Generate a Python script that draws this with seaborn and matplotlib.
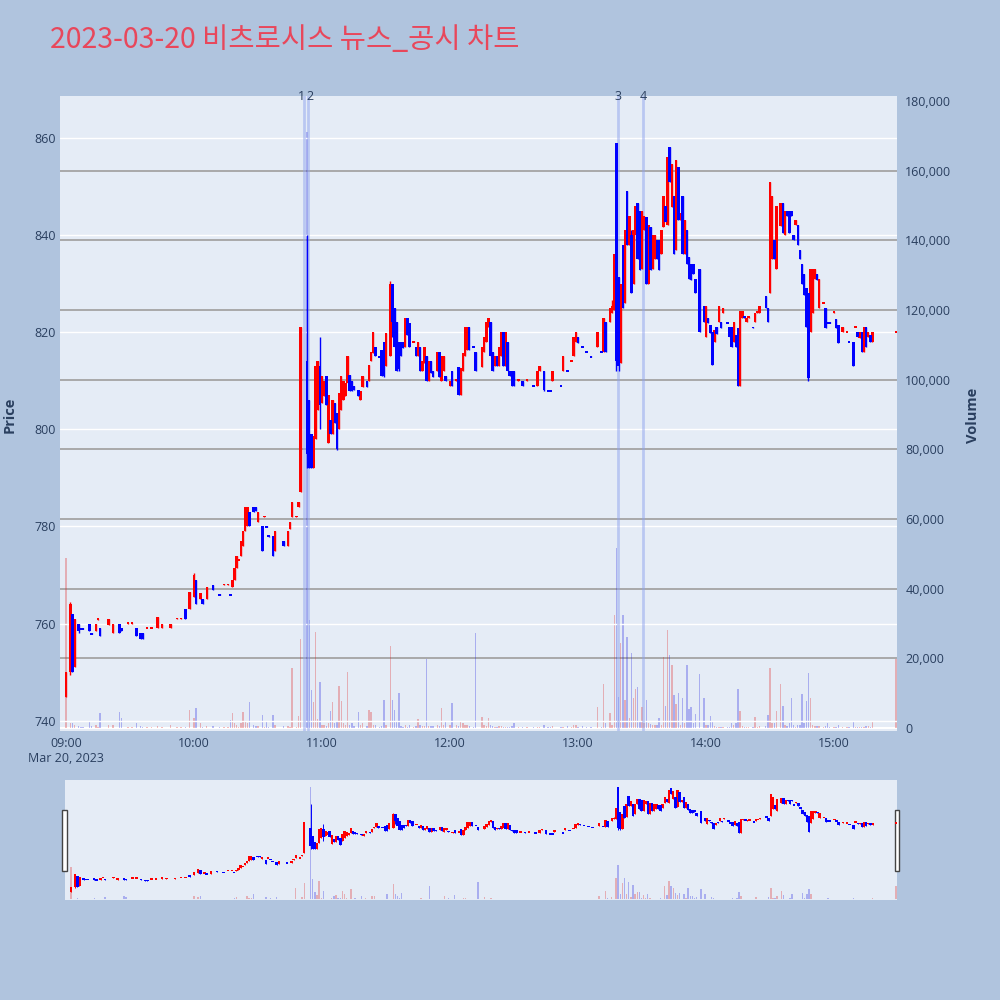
import matplotlib
matplotlib.use('Agg')
import matplotlib.pyplot as plt
import seaborn as sns
import numpy as np
import pandas as pd
from matplotlib.patches import Rectangle
from matplotlib.ticker import FuncFormatter

# ---------------- data (minutes after 09:00) ----------------
minute = [0, 2, 3, 4, 6, 7, 8, 11, 12, 14, 15, 16, 20, 22, 25, 26, 29, 31, 33, 35,
          36, 38, 40, 43, 45, 49, 52, 54, 56, 58, 60, 61, 63, 64, 66, 69, 72, 74, 76, 77,
          78, 79, 80, 81, 82, 83, 84, 85, 86, 88, 89, 90, 92, 93, 94, 95, 97, 98, 102, 104,
          105, 106, 108, 109, 110, 113, 114, 115, 116, 117, 118, 119, 120, 121, 122, 123, 124, 125, 126, 127,
          128, 129, 130, 131, 132, 133, 134, 135, 137, 138, 139, 141, 142, 143, 144, 145, 147, 148, 149, 150,
          152, 153, 154, 155, 156, 157, 158, 159, 160, 161, 163, 164, 165, 166, 167, 168, 169, 170, 171, 172,
          174, 175, 176, 177, 178, 180, 181, 183, 184, 185, 186, 187, 188, 189, 191, 192, 195, 196, 197, 198,
          199, 200, 201, 202, 203, 204, 205, 206, 207, 208, 209, 210, 212, 214, 216, 219, 221, 222, 224, 226,
          227, 228, 232, 233, 235, 237, 238, 239, 240, 242, 244, 246, 249, 251, 252, 253, 255, 256, 257, 258,
          259, 260, 261, 262, 263, 264, 265, 266, 267, 268, 269, 270, 271, 272, 273, 274, 275, 276, 277, 278,
          279, 280, 281, 282, 283, 284, 285, 286, 287, 288, 289, 290, 291, 292, 293, 294, 295, 297, 299, 300,
          301, 302, 303, 304, 305, 306, 307, 308, 310, 311, 312, 313, 314, 315, 316, 317, 318, 319, 320, 322,
          323, 324, 325, 328, 329, 330, 331, 332, 333, 335, 336, 337, 338, 339, 340, 341, 342, 343, 344, 345,
          346, 347, 348, 349, 350, 351, 352, 353, 355, 356, 357, 358, 360, 361, 362, 364, 366, 367, 369, 370,
          371, 372, 373, 374, 375, 376, 377, 378, 389]

open_ = [745, 750, 762, 751, 760, 759, 759, 760, 758, 758.5, 760.8, 759, 759.8, 758, 760, 759, 760, 760, 759, 758,
         758, 759, 759, 759, 759, 759, 761, 761, 763, 763, 765.5, 769, 765, 765, 765, 768, 766, 768, 768, 766,
         767.6, 769, 771.4, 773, 774, 776, 779, 780, 783, 784, 784, 781, 780, 782, 780, 778, 778, 775, 777, 776,
         779.5, 782, 782, 784, 787, 814, 806, 799, 792, 798, 804, 813, 805.4, 806.8, 811, 797.2, 802, 799, 805.4, 803.4,
         800, 804, 806, 806.8, 809.5, 811.2, 809.9, 809, 808, 806, 808.8, 810, 809.9, 814, 815.7, 817, 815, 816.4, 818, 813,
         815, 830, 825, 822, 818, 818, 818, 817, 823, 821.8, 818, 817, 815, 817, 812, 813.6, 815, 810, 814, 812,
         812, 816, 810, 812, 811, 809, 812, 810, 812.9, 807, 812, 815, 816.3, 821, 817, 816, 812.9, 816, 818, 821,
         822, 816, 813, 815, 813, 815, 820, 813, 818, 812, 812, 812, 810, 810, 810, 809, 809, 812, 812, 808,
         808, 810, 809, 812, 812, 814, 815, 818, 819, 817, 816, 815, 817, 816, 816, 822, 822, 824, 824.6, 859,
         831.4, 813.6, 838, 826, 849, 838, 840, 830, 840, 846.5, 845, 833, 841, 843.7, 830, 841.7, 833, 835, 839, 839,
         836, 841.7, 846, 842, 858, 845.8, 848, 837, 854, 843, 848, 836, 841, 835.5, 834, 834, 831, 833, 825.3, 819,
         823, 821.5, 820, 818, 821, 822, 822, 824, 822, 821, 821, 818, 819.5, 820.8, 809, 823, 823.4, 822, 823, 821,
         822, 824, 824, 827.4, 825, 828, 835, 839, 833, 841.8, 846.6, 840, 845, 845, 845, 840, 842, 842, 837, 834,
         832, 829, 828, 820, 823.9, 831, 832, 825, 826, 825, 822, 822, 824, 822.8, 821.5, 820, 820, 818, 818, 821,
         820, 818.7, 820, 816, 821, 819, 819.4, 818, 820]

high = [750, 764.5, 762, 761, 760, 759, 759, 760, 758, 760, 761, 759, 761, 760, 760, 759, 760.1, 760.1, 759, 758,
        758, 759.1, 759.1, 761.3, 760, 760, 761.1, 761.1, 763, 766.5, 770.5, 769, 766.3, 765, 767.5, 768, 766, 768.1, 768.1, 766,
        769, 771.4, 774, 773.1, 777, 779, 784, 784, 783, 784, 784, 783, 780, 782.1, 780, 778, 778, 779, 777, 779,
        781, 785, 782.1, 785, 821, 840, 806, 799, 798.6, 813, 814, 819, 811, 810, 811, 807, 802, 806, 805.4, 803.4,
        807.5, 811, 810, 809.5, 815, 811.2, 809.9, 809, 808, 807.8, 811, 810, 813.3, 816, 820, 817, 815, 816.4, 818, 819.8,
        830.5, 830, 825, 822, 818, 818, 818, 823, 823, 821.8, 818.1, 817, 818, 817, 814, 817, 815, 814, 814, 812,
        816, 816, 815, 815, 811, 810, 812, 810.1, 812.9, 812.6, 815.6, 821, 821, 821, 817, 816, 817, 819, 822, 823,
        822, 816, 815, 815, 817, 820, 820, 820, 818, 812, 812, 812, 810.1, 810, 810.1, 809, 812, 813, 812, 808,
        808, 812, 809, 815, 812, 814.1, 819, 820, 819, 817, 816, 815, 820, 816, 823, 822, 825, 826.7, 836, 859,
        831.4, 830, 838, 841, 849, 844, 841, 841, 846, 846.5, 845, 845, 844, 843.7, 842, 841.7, 840, 840, 839, 839,
        841, 848, 846, 856, 858, 854.7, 848, 855.4, 854, 844.5, 848, 843, 841, 835.5, 834, 834, 831, 833, 825.3, 825.3,
        823, 821.5, 820, 820.4, 821, 825.3, 822, 825, 822, 821, 821, 822, 819.5, 820.8, 824.3, 824.3, 823.4, 823, 823.1, 821,
        824, 824.1, 825.3, 827.4, 825, 851, 848, 839, 846, 846.6, 846.6, 845, 845, 845, 845, 840, 843, 842, 837, 834,
        832, 829, 828, 833, 833, 833, 832, 831, 826.1, 825, 822, 822, 824.1, 822.8, 821.5, 821, 820.1, 818, 818, 821.1,
        820, 820, 820, 821, 821, 820, 819.4, 820, 820.1]

low = [745, 749.5, 750, 751, 758, 758.8, 758.8, 758.5, 757.8, 758.5, 760.8, 757.5, 759.8, 758, 758, 758.5, 760, 760, 757.5, 756.8,
       756.8, 759, 759, 759, 759, 759, 761, 761, 761, 763, 765.5, 764, 765, 764, 765, 767, 765.9, 768, 768, 765.9,
       767.6, 769, 771.4, 773, 774, 776, 779, 780, 780, 783, 783.2, 781, 775, 782, 779.9, 777.9, 774, 775, 776, 776,
       779.5, 782, 782, 784, 787, 792, 792, 792, 792, 798, 804, 800, 805.4, 806.8, 805, 797.2, 799, 799, 801.3, 795.8,
       800, 804, 806, 806.8, 809.5, 807.8, 807.8, 808, 806.8, 806, 808.8, 808.8, 809.9, 814, 815.7, 815, 814.8, 811, 810.8, 813,
       815, 819, 817, 812, 812, 815, 816.7, 817, 819.4, 817, 818, 815, 815, 812, 812, 813.6, 810, 810, 811.5, 810.8,
       812, 810.8, 810, 812, 810, 809, 809, 810, 807, 807, 812, 815, 816.3, 816.3, 816.9, 812, 812.9, 816, 818, 821,
       815, 812, 813, 813, 813, 815, 813, 813, 812, 811, 809, 809, 810, 809, 810, 808.9, 809, 812, 807.8, 807.9,
       807.9, 810, 808.9, 812, 811.9, 814, 815, 818, 817.8, 816.9, 815.9, 814.9, 817, 815.9, 816, 816, 822, 824, 824.6, 812,
       812, 813.6, 825, 826, 838, 838, 828, 830, 840, 835, 832.8, 833, 841, 830, 830, 832.8, 833, 835, 835, 832.8,
       836, 841.7, 842.7, 842, 851, 845.8, 836, 837, 843, 843, 836, 836, 834, 831, 830.7, 832, 828, 820, 822, 819,
       821.8, 819.8, 813.3, 818, 819.7, 822, 820.8, 824, 821.9, 819, 817, 818, 817, 809, 809, 823, 823, 822, 823, 820.9,
       822, 824, 824, 825, 822, 828, 835, 835, 833, 841.8, 840.4, 840, 844, 840.4, 844, 839, 842, 838, 835, 830,
       827.6, 821, 810, 820, 823.9, 831, 830.7, 825, 826, 820.8, 821.9, 821.9, 824, 820.8, 817.7, 820, 820, 817.9, 813, 821,
       819, 818.7, 816, 816, 817, 819, 818, 818, 820]

close = [750, 764, 750, 761, 758.5, 758.8, 758.8, 758.5, 757.8, 760, 761, 757.5, 761, 760, 758, 758.5, 760.1, 760.1, 757.5, 756.8,
         756.8, 759.1, 759.1, 761.3, 760, 760, 761.1, 761.1, 761, 766.5, 770, 764, 766.3, 764, 767.5, 767, 765.9, 768.1, 768.1, 765.9,
         769, 771.4, 774, 773.1, 777, 779, 784, 784, 780, 783, 783.2, 783, 775, 782.1, 779.9, 777.9, 774, 779, 776, 779,
         781, 785, 782.1, 785, 821, 795, 792, 792, 798.6, 813, 814, 805, 811, 810, 805, 807, 799, 806, 801.3, 796,
         807.5, 811, 810, 809.5, 815, 807.8, 807.8, 808, 806.8, 807.8, 811, 808.8, 813.3, 816, 820, 815, 814.8, 811, 811, 819.8,
         830, 822, 817, 812, 812.5, 815, 816.7, 823, 819.4, 817, 818.1, 815, 818, 812, 814, 817, 810, 814, 811.5, 810.8,
         816, 810.8, 815, 815, 810, 810, 809, 810.1, 807, 812.6, 815.6, 821, 821, 816.3, 816.9, 812, 817, 819, 822, 823,
         815, 812, 815, 813, 817, 820, 813, 820, 812, 811, 809, 809, 810.1, 809, 810.1, 808.9, 812, 813, 808, 807.9,
         807.9, 812, 808.9, 815, 811.9, 814.1, 819, 820, 817.8, 816.9, 815.9, 814.9, 820, 815.9, 823, 816, 825, 825.3, 836, 814,
         813, 830, 825, 841, 838, 844, 828, 841, 846, 835, 832.8, 845, 844, 830, 842, 832.8, 840, 840, 835, 832.8,
         841, 848, 842.7, 856, 851, 854.7, 836, 855.4, 843, 844.5, 836, 843, 834, 831, 830.7, 832, 828, 820, 822, 825.3,
         821.8, 819.8, 813.3, 820.4, 819.7, 825.3, 820.8, 825, 821.9, 819, 817, 822, 817, 809, 824.3, 824.3, 823, 823, 823.1, 820.9,
         824, 824.1, 825.3, 825, 822, 851, 848, 835, 846, 846.6, 840.4, 845, 844, 840.4, 844, 839, 843, 838, 835, 830,
         827.6, 821, 810.5, 833, 833, 833, 830.7, 831, 826.1, 820.8, 821.9, 821.9, 824.1, 820.8, 817.7, 821, 820.1, 817.9, 813, 821.1,
         819, 820, 816, 821, 817, 820, 818, 820, 820.1]

volume = [48800, 1300, 1500, 800, 600, 300, 200, 1900, 700, 800, 300, 4200, 1000, 900, 4700, 3000, 300, 300, 1300, 600,
          400, 200, 200, 500, 400, 1000, 200, 200, 300, 5200, 3000, 5700, 1300, 400, 600, 600, 300, 200, 200, 2300,
          4300, 1300, 1000, 300, 1300, 4500, 2000, 1500, 7500, 800, 500, 600, 3800, 300, 1900, 300, 3800, 800, 500, 600,
          400, 17100, 300, 3400, 25600, 171000, 31000, 10900, 7400, 27600, 2500, 13300, 1000, 800, 700, 1500, 4900, 7400, 1500, 2000,
          12200, 7700, 1500, 800, 16100, 1000, 1500, 500, 4700, 800, 1500, 600, 5100, 4600, 1000, 800, 300, 600, 8000, 1000,
          23500, 8000, 5100, 2000, 10000, 600, 400, 800, 400, 1000, 300, 600, 2500, 800, 500, 500, 19700, 700, 500, 500,
          800, 500, 5700, 800, 2000, 1000, 7300, 800, 600, 2000, 1500, 1000, 800, 600, 300, 27200, 3300, 1000, 500, 2800,
          800, 500, 400, 300, 600, 500, 400, 300, 400, 300, 600, 1300, 300, 400, 200, 300, 400, 300, 1000, 300,
          200, 500, 200, 400, 500, 200, 1000, 1000, 300, 500, 200, 200, 5900, 400, 12600, 1500, 4200, 1000, 32400, 51700,
          8900, 24300, 32400, 8100, 26000, 3000, 21500, 8500, 11100, 11700, 2000, 6000, 1500, 8000, 1500, 1200, 1000, 800, 1000, 2900,
          1000, 20500, 6300, 28000, 21000, 18100, 9500, 7000, 10100, 1000, 8500, 1500, 18100, 5400, 5900, 1500, 4100, 15500, 8700, 1000,
          800, 3400, 2000, 500, 300, 400, 300, 300, 300, 300, 1500, 1000, 1500, 11100, 5000, 500, 300, 300, 200, 300,
          3300, 300, 500, 500, 3700, 17100, 1500, 1500, 4900, 12600, 6300, 1000, 500, 1500, 8500, 1000, 300, 1000, 1000, 9900,
          1500, 7800, 15900, 8500, 1000, 500, 500, 500, 300, 500, 1500, 300, 200, 300, 800, 200, 200, 200, 1800, 200,
          300, 300, 400, 400, 600, 500, 400, 1800, 19700]

news_minute = [111.6, 113.4, 258.8, 270.5]
news_label = ['1', '2', '3', '4']

x_tick_minutes = [0, 60, 120, 180, 240, 300, 360]
x_tick_labels = ['09:00\nMar 20, 2023', '10:00', '11:00', '12:00', '13:00', '14:00', '15:00']
price_ticks = [740, 760, 780, 800, 820, 840, 860]
volume_ticks = [0, 20000, 40000, 60000, 80000, 100000, 120000, 140000, 160000, 180000]
title_text = '2023-03-20 비츠로시스 뉴스_공시 차트'

# ---------------- style ----------------
sns.set_theme(style='white')
plt.rcParams['font.family'] = ['Open Sans', 'DejaVu Sans']

BG = '#B0C4DE'
PLOT_BG = '#E5ECF6'
TXT = '#2a3f5f'
UP = '#FF0000'
DOWN = '#0000FF'

df = pd.DataFrame(dict(minute=minute, open=open_, high=high, low=low,
                       close=close, volume=volume))
df['dir'] = np.where(df['close'] >= df['open'], 'up', 'down')

fig = plt.figure(figsize=(10, 10), dpi=100, facecolor=BG)


def draw_panel(ax, ax2, min_body, body_w, wick_lw, vol_w):
    # volume (secondary axis, drawn behind)
    sns.barplot(data=df, x='minute', y='volume', hue='dir',
                palette={'up': UP, 'down': DOWN}, native_scale=True,
                dodge=False, width=vol_w, alpha=0.3, errorbar=None,
                legend=False, linewidth=0, ax=ax2)
    # candles
    for d, col in (('up', UP), ('down', DOWN)):
        s = df[df['dir'] == d]
        ax.vlines(s['minute'], s['low'], s['high'], color=col, lw=wick_lw, zorder=3)
        body = np.abs(s['close'] - s['open'])
        h = np.maximum(body, min_body)
        b = np.minimum(s['open'], s['close']) - (h - body) / 2
        ax.bar(s['minute'], h, bottom=b, width=body_w, color=col,
               linewidth=0, zorder=4)


def setup_pair(rect):
    a = fig.add_axes(rect)
    a2 = a.twinx()
    a.set_zorder(a2.get_zorder() + 1)
    a.patch.set_visible(False)
    a2.patch.set_visible(True)
    a2.set_facecolor(PLOT_BG)
    for aa in (a, a2):
        for sp in aa.spines.values():
            sp.set_visible(False)
    return a, a2


XLIM = (-2.8, 389.5)

# ---------------- main chart ----------------
ax, ax2 = setup_pair([0.060, 0.269, 0.837, 0.635])
draw_panel(ax, ax2, min_body=0.4, body_w=1.2, wick_lw=1.0, vol_w=0.65)

ax.set_ylim(737.9, 868.6)
ax2.set_ylim(-861, 181436)
ax.set_xlim(*XLIM)
ax2.set_xlim(*XLIM)

ax.set_yticks(price_ticks)
ax.grid(axis='y', color='white', lw=1.0, zorder=0)
ax.grid(axis='x', visible=False)
ax2.set_yticks(volume_ticks)
ax2.yaxis.set_major_formatter(FuncFormatter(lambda v, p: f'{int(v):,}'))
ax2.grid(False)
for v in volume_ticks[1:-1]:
    ax2.axhline(v, color='#A9A9A9', lw=1.4, zorder=0.3)
ax2.axhline(0, color='white', lw=1.5, zorder=0.5)

ax.set_xticks(x_tick_minutes)
ax.set_xticklabels(x_tick_labels)
ax.tick_params(axis='x', length=0, pad=4, labelsize=9, labelcolor=TXT)
ax.tick_params(axis='y', length=0, pad=3, labelsize=9, labelcolor=TXT)
ax2.tick_params(axis='y', length=0, pad=6, labelsize=9, labelcolor=TXT)
ax.set_xlabel('')
ax.set_ylabel('')
ax2.set_xlabel('')
ax2.set_ylabel('')

news_dx = [-1.8, 1.8, 0, 0]
for m, lab, dx in zip(news_minute, news_label, news_dx):
    ax.axvline(m, color='#8FA3EE', alpha=0.5, lw=2.0, zorder=1)
    ax.annotate(lab, xy=(m, 1.0), xycoords=('data', 'axes fraction'),
                xytext=(dx, 0), textcoords='offset points', ha='center',
                va='center', fontsize=9, color=TXT, annotation_clip=False)

fig.text(0.010, 0.585, 'Price', rotation=90, ha='center', va='center',
         fontsize=10.5, fontweight='bold', color=TXT)
fig.text(0.973, 0.585, 'Volume', rotation=90, ha='center', va='center',
         fontsize=10.5, fontweight='bold', color=TXT)

fig.text(0.05, 0.960, title_text, ha='left', va='center', fontsize=20.5,
         color='#E8475B', family=['Noto Sans CJK KR', 'DejaVu Sans'])

# ---------------- range slider ----------------
axs, axs2 = setup_pair([0.065, 0.100, 0.832, 0.120])
draw_panel(axs, axs2, min_body=1.4, body_w=1.15, wick_lw=0.7, vol_w=0.65)
axs.set_ylim(736.3, 866.6)
axs2.set_ylim(-861, 181436)
axs.set_xlim(*XLIM)
axs2.set_xlim(*XLIM)
for aa in (axs, axs2):
    aa.set_xticks([])
    aa.set_yticks([])
    aa.set_xlabel('')
    aa.set_ylabel('')
    aa.grid(False)

for x0 in (0.0620, 0.8945):
    fig.add_artist(Rectangle((x0, 0.129), 0.0048, 0.061, transform=fig.transFigure,
                             facecolor='white', edgecolor='#444444', lw=1.0))

fig.savefig('out.png', dpi=100, facecolor=BG)
